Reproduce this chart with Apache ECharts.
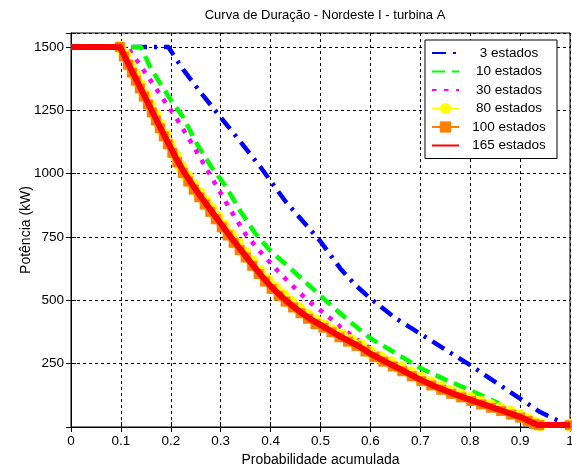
<!DOCTYPE html>
<html>
<head>
<meta charset="utf-8">
<script src="https://cdn.jsdelivr.net/npm/echarts@6/dist/echarts.min.js"></script>
<style>html,body{margin:0;padding:0;background:#fff;}#c{width:572px;height:466px;}</style>
</head>
<body>
<div id="c"></div>
<script>
const titleText = 'Curva de Duração - Nordeste I - turbina A';
const xName = 'Probabilidade acumulada';
const yName = 'Potência (kW)';
const seriesNames = ['3 estados', '10 estados', '30 estados', '80 estados', '100 estados', '165 estados'];

// 3 estados
const x3 = [0, 0.195, 0.225, 0.26, 0.30, 0.34, 0.38, 0.43, 0.47, 0.50, 0.54, 0.57, 0.60, 0.65, 0.70, 0.80, 0.90, 0.94, 1.0];
const y3 = [1500, 1500, 1410, 1320, 1222, 1125, 1025, 890, 800, 732, 625, 560, 507, 430, 368, 244, 112, 59, 3];

// 10 estados
const x10 = [0, 0.14, 0.16, 0.18, 0.20, 0.225, 0.25, 0.28, 0.31, 0.34, 0.37, 0.40, 0.44, 0.475, 0.51, 0.54, 0.57, 0.60, 0.65, 0.70, 0.75, 0.80, 0.85, 0.88, 0.92, 0.95, 1.0];
const y10 = [1500, 1500, 1415, 1353, 1290, 1222, 1125, 1030, 950, 850, 762, 695, 625, 563, 500, 448, 398, 350, 292, 233, 187, 145, 100, 68, 35, 12, 10];

// 30 estados
const x30 = [0, 0.115, 0.12, 0.15, 0.18, 0.21, 0.245, 0.285, 0.32, 0.35, 0.38, 0.41, 0.44, 0.475, 0.51, 0.54, 0.58, 0.62, 0.66, 0.70, 0.75, 0.80, 0.85, 0.90, 0.95, 1.0];
const y30 = [1500, 1500, 1480, 1395, 1308, 1222, 1110, 974, 855, 760, 690, 625, 565, 498, 445, 395, 335, 285, 240, 200, 156, 116, 80, 47, 8, 8];

// 80 estados
const x80 = [0.098, 0.108, 0.118, 0.128, 0.138, 0.148, 0.158, 0.168, 0.178, 0.188, 0.198, 0.209, 0.22, 0.232, 0.244, 0.256, 0.268, 0.28, 0.293, 0.306, 0.32, 0.334, 0.348, 0.363, 0.378, 0.393, 0.408, 0.424, 0.44, 0.456, 0.473, 0.49, 0.507, 0.525, 0.543, 0.561, 0.58, 0.6, 0.62, 0.64, 0.66, 0.68, 0.70, 0.72, 0.74, 0.76, 0.78, 0.80, 0.82, 0.84, 0.86, 0.88, 0.90, 0.915, 0.93, 0.94, 1.0];
const y80 = [1500, 1468, 1428, 1389, 1350, 1310, 1271, 1232, 1192, 1153, 1114, 1070, 1028, 990, 955, 923, 892, 862, 828, 793, 758, 723, 688, 652, 613, 580, 550, 521, 493, 467, 442, 419, 400, 379, 360, 341, 322, 294, 274, 254, 234, 214, 192, 175, 157, 141, 126, 112, 98, 85, 72, 58, 44, 30, 16, 9, 8];

// 100 estados
const x100 = [0.098, 0.106, 0.114, 0.122, 0.130, 0.138, 0.146, 0.154, 0.162, 0.170, 0.178, 0.186, 0.194, 0.203, 0.213, 0.224, 0.235, 0.246, 0.257, 0.268, 0.279, 0.290, 0.302, 0.314, 0.326, 0.338, 0.350, 0.363, 0.376, 0.389, 0.402, 0.416, 0.430, 0.445, 0.460, 0.475, 0.490, 0.506, 0.522, 0.538, 0.555, 0.572, 0.590, 0.608, 0.626, 0.645, 0.664, 0.683, 0.702, 0.722, 0.742, 0.762, 0.782, 0.802, 0.822, 0.842, 0.862, 0.882, 0.900, 0.915, 0.928, 0.938, 1.0];
const y100 = [1500, 1462, 1430, 1399, 1367, 1336, 1304, 1273, 1242, 1210, 1179, 1147, 1116, 1082, 1045, 1003, 969, 937, 907, 878, 849, 820, 788, 756, 727, 698, 669, 636, 604, 574, 545, 518, 495, 472, 449, 427, 406, 392, 374, 354, 337, 320, 298, 276, 258, 239, 220, 200, 181, 164, 147, 131, 117, 103, 89, 76, 63, 49, 37, 24, 12, 7, 7];

// 165 estados
const x165 = [0, 0.098, 0.12, 0.14, 0.16, 0.18, 0.195, 0.21, 0.225, 0.24, 0.26, 0.28, 0.30, 0.32, 0.34, 0.36, 0.38, 0.40, 0.42, 0.44, 0.46, 0.48, 0.50, 0.52, 0.54, 0.56, 0.58, 0.60, 0.63, 0.66, 0.70, 0.73, 0.76, 0.80, 0.83, 0.86, 0.90, 0.92, 0.935, 1.0];
const y165 = [1500, 1500, 1413, 1335, 1256, 1177, 1120, 1063, 1011, 965, 910, 856, 803, 750, 700, 650, 601, 556, 518, 484, 453, 426, 403, 380, 357, 336, 315, 289, 258, 228, 187, 160, 136, 107, 87, 67, 40, 22, 8, 8];

const pairs = (xs, ys) => xs.map((x, i) => [x, ys[i]]);
const FONT = 'Liberation Sans, Arial, sans-serif';

const chart = echarts.init(document.getElementById('c'), null, {renderer: 'canvas'});
const yMax = 1555;

const baseLine = (name, xs, ys, color, width, type, z) => ({
  name, type: 'line', data: pairs(xs, ys), xAxisIndex: 0, yAxisIndex: 0,
  symbol: 'none', clip: true, z,
  lineStyle: {color, width, type, cap: 'butt', join: 'round'},
  itemStyle: {color},
  emphasis: {disabled: true}
});

const noSym = {itemStyle: {opacity: 0}};
const option = {
  animation: false,
  backgroundColor: '#fff',
  title: {
    text: titleText, left: 320, top: 4, textAlign: 'center',
    textStyle: {fontFamily: FONT, fontSize: 13, fontWeight: 'normal', color: '#000'}
  },
  grid: {left: 71, right: 2, top: 33, bottom: 39, show: true, borderColor: '#000', borderWidth: 1,
    backgroundColor: '#fff', containLabel: false, outerBoundsMode: 'none'},
  legend: {
    orient: 'vertical', left: 425, top: 40,
    padding: [6, 3, 6, 6], itemGap: 4.5, itemWidth: 27, itemHeight: 14,
    backgroundColor: '#fff', borderColor: '#000', borderWidth: 1, borderRadius: 0,
    data: [
      Object.assign({name: seriesNames[0]}, noSym),
      Object.assign({name: seriesNames[1]}, noSym),
      Object.assign({name: seriesNames[2]}, noSym),
      {name: seriesNames[3]},
      {name: seriesNames[4]},
      Object.assign({name: seriesNames[5]}, noSym)
    ],
    formatter: n => '{t|' + n + '}',
    textStyle: {fontFamily: FONT, fontSize: 13.5, color: '#000',
      rich: {t: {width: 90, align: 'center', fontFamily: FONT, fontSize: 13.5, color: '#000', lineHeight: 14}}}
  },
  xAxis: [{
    type: 'value', min: 0, max: 1, interval: 0.1, position: 'bottom',
    name: xName, nameLocation: 'middle', nameGap: 26, nameMoveOverlap: false,
    nameTextStyle: {fontFamily: FONT, fontSize: 14, color: '#000'},
    axisLine: {show: true, lineStyle: {color: '#000', width: 1}},
    axisTick: {show: true, inside: true, length: 5, lineStyle: {color: '#000'}},
    axisLabel: {fontFamily: FONT, fontSize: 13.5, color: '#000', margin: 7},
    splitLine: {show: true, lineStyle: {color: '#000', width: 1, type: [3, 3]}}
  }, {
    type: 'value', min: 0, max: 1, interval: 0.1, position: 'top',
    axisLine: {show: true, lineStyle: {color: '#000'}},
    axisTick: {show: true, inside: true, length: 5, lineStyle: {color: '#000'}},
    axisLabel: {show: false}, splitLine: {show: false}
  }],
  yAxis: [{
    type: 'value', min: 0, max: yMax, interval: 250, position: 'left',
    name: yName, nameLocation: 'middle', nameGap: 38, nameMoveOverlap: false,
    nameTextStyle: {fontFamily: FONT, fontSize: 14, color: '#000'},
    axisLine: {show: true, lineStyle: {color: '#000', width: 1}},
    axisTick: {show: true, inside: true, length: 5, lineStyle: {color: '#000'}},
    axisLabel: {fontFamily: FONT, fontSize: 13.5, color: '#000', margin: 7,
      formatter: v => (v === 0 || v % 250 !== 0) ? '' : String(v)},
    splitLine: {show: true, lineStyle: {color: '#000', width: 1, type: [3, 3]}}
  }, {
    type: 'value', min: 0, max: yMax, interval: 250, position: 'right',
    axisLine: {show: true, lineStyle: {color: '#000'}},
    axisTick: {show: true, inside: true, length: 5, lineStyle: {color: '#000'}},
    axisLabel: {show: false}, splitLine: {show: false}
  }],
  series: [
    baseLine(seriesNames[0], x3, y3, '#0000ff', 4.5, [14, 7, 3, 7], 2),
    baseLine(seriesNames[1], x10, y10, '#00ff00', 4.5, [13, 7], 2),
    baseLine(seriesNames[2], x30, y30, '#ff00ff', 4.5, [4.5, 7.5], 2),
    Object.assign(baseLine(seriesNames[3], x80, y80, '#ffff00', 6, 'solid', 3), {
      symbol: 'circle', symbolSize: 13, showSymbol: true, showAllSymbol: true,
      itemStyle: {color: '#ffff00', borderColor: '#ffff00', borderWidth: 0}
    }),
    Object.assign(baseLine(seriesNames[4], x100, y100, '#ff8000', 5, 'solid', 4), {
      symbol: 'rect', symbolSize: 10, showSymbol: true, showAllSymbol: true,
      itemStyle: {color: '#ff8000', borderColor: '#ff8000', borderWidth: 0}
    }),
    baseLine(seriesNames[5], x165, y165, '#ff0000', 6, 'solid', 5)
  ]
};
chart.setOption(option);
</script>
</body>
</html>
